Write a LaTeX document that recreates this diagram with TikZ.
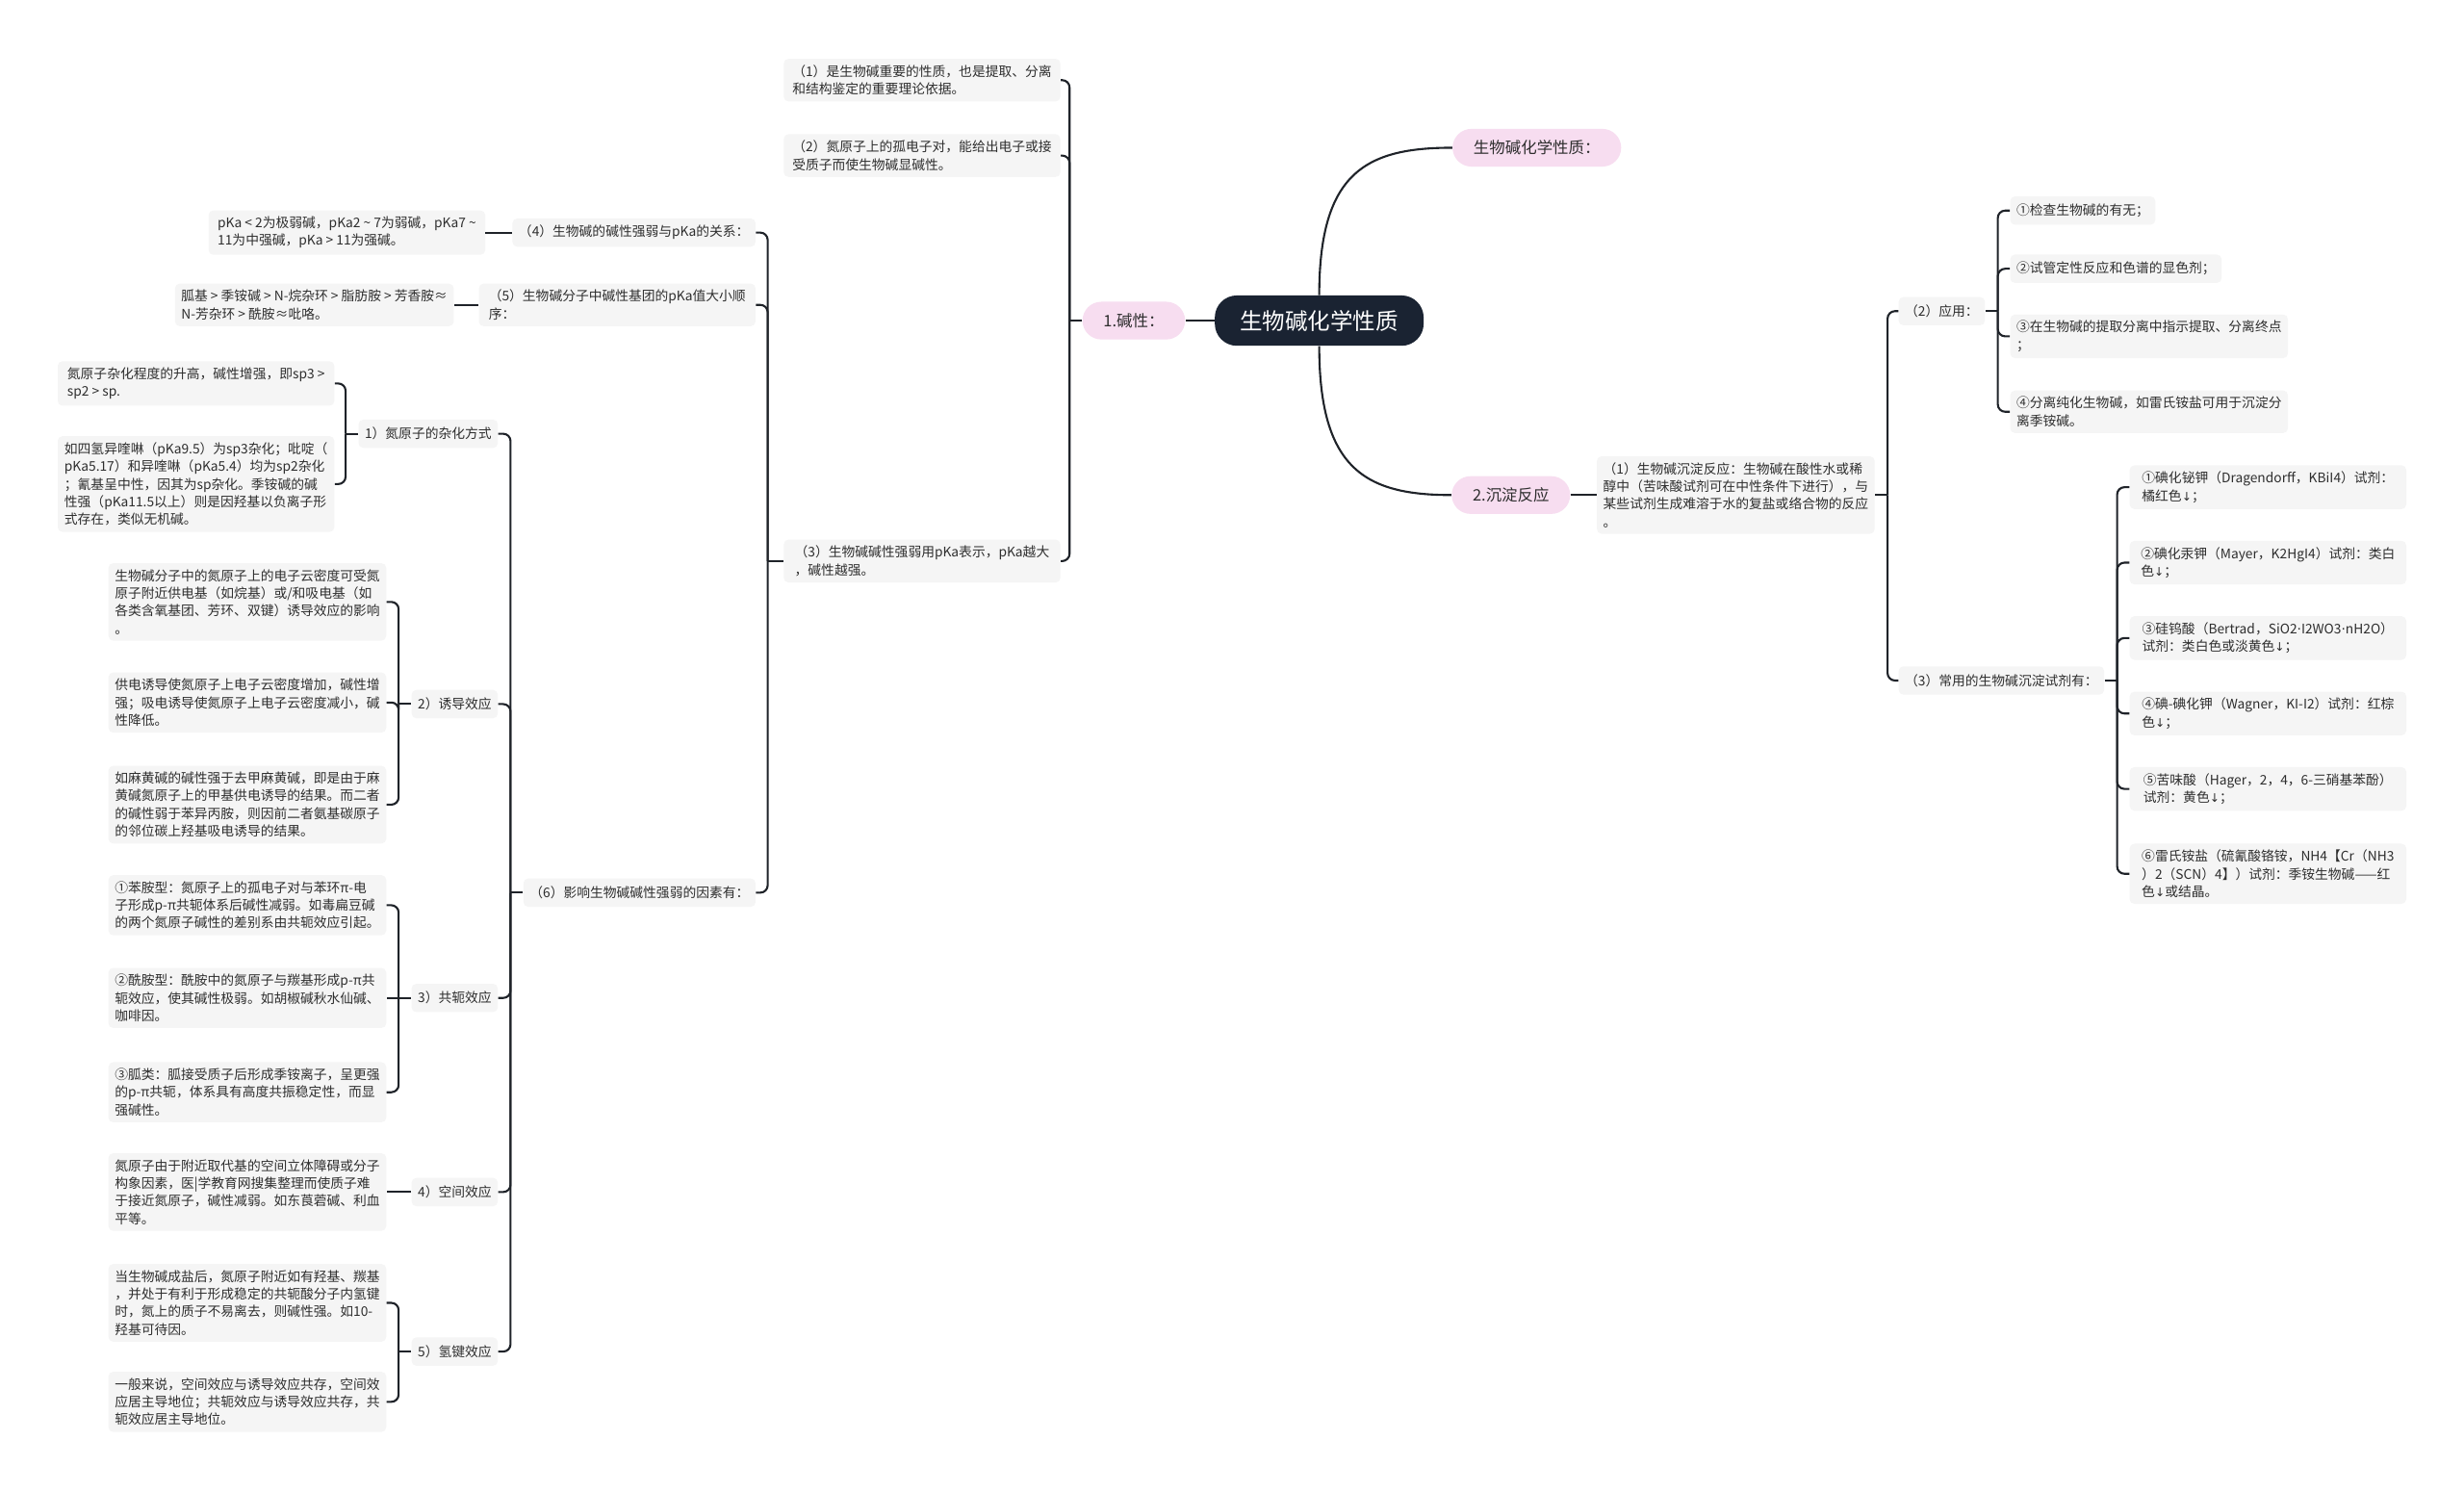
\documentclass[tikz,border=0pt]{standalone}
\usepackage{fontspec}
\setmainfont{Noto Sans CJK SC}
\newfontfamily\symfont{DejaVu Sans}
\usepackage{xcolor}
\usepackage{tikz}
\usetikzlibrary{calc}
\definecolor{mapInk}{HTML}{2E2E2E}
\definecolor{mapLine}{HTML}{1F2329}
\definecolor{mapRoot}{HTML}{1A2332}
\definecolor{mapPink}{HTML}{F7DDF0}
\definecolor{mapBox}{HTML}{F5F5F5}
\newcommand{\dn}{{\symfont\fontsize{6.4}{9.56}\selectfont ↓}}
\newcommand{\md}{{\symfont ·}}

\begin{document}
\begin{tikzpicture}[
  x=0.03cm, y=-0.03cm,
  every node/.style={font=\fontsize{7.2}{9.56}\selectfont, text=mapInk},
  root/.style={
    fill=mapRoot, text=white, rounded corners=0.42cm, minimum height=0.96cm,
    inner xsep=0.48cm, font=\fontsize{12.3}{14}\selectfont,
  },
  topic/.style={
    fill=mapPink, rounded corners=0.36cm, minimum height=0.72cm,
    inner xsep=0.4cm, font=\fontsize{8.6}{10}\selectfont,
  },
  box/.style={
    fill=mapBox, rounded corners=0.09cm, align=left, inner xsep=0.12cm,
    inner ysep=0.12cm, minimum height=0.54cm,
  },
  leaf/.style={box, minimum width=5.28cm},
  link/.style={draw=mapLine, line width=1.1pt, rounded corners=0.14cm},
]

% Page
\fill[white] (0,0) rectangle (1568,949);
\useasboundingbox (0,0) rectangle (1568,949);

% Root and main topics
\node[root] (root) at (839.5, 204) {生物碱化学性质};
\node[topic] (basic) at (721.5, 204) {1.碱性：};
\node[topic] (chem) at (978, 94) {生物碱化学性质：};
\node[topic] (prec) at (961.5, 315) {2.沉淀反应};

\draw[link] (root.west) -- (basic.east);
\draw[link] (root.north) .. controls +(0,-78) and +(-55,0) .. (chem.west);
\draw[link] (root.south) .. controls +(0,78) and +(-55,0) .. (prec.west);

% 1.碱性 (left side)
\node[leaf, anchor=east] (n1) at (675, 51) {（1）是生物碱重要的性质，也是提取、分离\\和结构鉴定的重要理论依据。};
\node[leaf, anchor=east] (n2) at (675, 99) {（2）氮原子上的孤电子对，能给出电子或接\\受质子而使生物碱显碱性。};
\node[leaf, anchor=east] (n3) at (675, 357) {（3）生物碱碱性强弱用pKa表示，pKa越大\\，碱性越强。};

\draw[link] (basic.west) -- ++(-8,0) coordinate (tb);
\foreach \c in {n1,n2,n3} \draw[link] (tb) |- (\c.east);

% (3) children
\node[box, anchor=east] (n4) at (481, 148) {（4）生物碱的碱性强弱与pKa的关系：};
\node[leaf, anchor=east] (n4a) at (309, 148) {pKa < 2为极弱碱，pKa2 \textasciitilde{} 7为弱碱，pKa7 \textasciitilde\\11为中强碱，pKa > 11为强碱。};
\node[leaf, anchor=east] (n5) at (481, 194) {（5）生物碱分子中碱性基团的pKa值大小顺\\序：};
\node[leaf, anchor=east] (n5a) at (289, 194) {胍基 > 季铵碱 > N-烷杂环 > 脂肪胺 > 芳香胺≈\\N-芳杂环 > 酰胺≈吡咯。};
\node[box, anchor=east] (n6) at (481, 568) {（6）影响生物碱碱性强弱的因素有：};

\draw[link] (n3.west) -- ++(-10,0) coordinate (t3);
\foreach \c in {n4,n5,n6} \draw[link] (t3) |- (\c.east);
\draw[link] (n4.west) -- (n4a.east);
\draw[link] (n5.west) -- (n5a.east);

% (6) factors
\node[box, anchor=east] (h1) at (317, 276) {1）氮原子的杂化方式};
\node[box, anchor=east] (h2) at (317, 448) {2）诱导效应};
\node[box, anchor=east] (h3) at (317, 635) {3）共轭效应};
\node[box, anchor=east] (h4) at (317, 758.5) {4）空间效应};
\node[box, anchor=east] (h5) at (317, 860) {5）氢键效应};

\draw[link] (n6.west) -- ++(-8,0) coordinate (t6);
\foreach \c in {h1,h2,h3,h4,h5} \draw[link] (t6) |- (\c.east);

% 1) hybridization
\node[leaf, anchor=east] (la) at (213, 244) {氮原子杂化程度的升高，碱性增强，即sp3 >\\sp2 > sp.};
\node[leaf, anchor=east] (lb) at (213, 308) {如四氢异喹啉（pKa9.5）为sp3杂化；吡啶（\\pKa5.17）和异喹啉（pKa5.4）均为sp2杂化\\；氰基呈中性，因其为sp杂化。季铵碱的碱\\性强（pKa11.5以上）则是因羟基以负离子形\\式存在，类似无机碱。};

\draw[link] (h1.west) -- ++(-8,0) coordinate (th1);
\foreach \c in {la,lb} \draw[link] (th1) |- (\c.east);

% 2) induction
\node[leaf, anchor=east] (lc) at (246, 383) {生物碱分子中的氮原子上的电子云密度可受氮\\原子附近供电基（如烷基）或/和吸电基（如\\各类含氧基团、芳环、双键）诱导效应的影响\\。};
\node[leaf, anchor=east] (ld) at (246, 447) {供电诱导使氮原子上电子云密度增加，碱性增\\强；吸电诱导使氮原子上电子云密度减小，碱\\性降低。};
\node[leaf, anchor=east] (le) at (246, 512) {如麻黄碱的碱性强于去甲麻黄碱，即是由于麻\\黄碱氮原子上的甲基供电诱导的结果。而二者\\的碱性弱于苯异丙胺，则因前二者氨基碳原子\\的邻位碳上羟基吸电诱导的结果。};

\draw[link] (h2.west) -- ++(-8,0) coordinate (th2);
\foreach \c in {lc,ld,le} \draw[link] (th2) |- (\c.east);

% 3) conjugation
\node[leaf, anchor=east] (lf) at (246, 576) {①苯胺型：氮原子上的孤电子对与苯环π-电\\子形成p-π共轭体系后碱性减弱。如毒扁豆碱\\的两个氮原子碱性的差别系由共轭效应引起。};
\node[leaf, anchor=east] (lg) at (246, 635) {②酰胺型：酰胺中的氮原子与羰基形成p-π共\\轭效应，使其碱性极弱。如胡椒碱秋水仙碱、\\咖啡因。};
\node[leaf, anchor=east] (lh) at (246, 695) {③胍类：胍接受质子后形成季铵离子，呈更强\\的p-π共轭，体系具有高度共振稳定性，而显\\强碱性。};

\draw[link] (h3.west) -- ++(-8,0) coordinate (th3);
\foreach \c in {lf,lh} \draw[link] (th3) |- (\c.east);
\draw[link] (th3) -- (lg.east);

% 4) steric
\node[leaf, anchor=east] (li) at (246, 758.5) {氮原子由于附近取代基的空间立体障碍或分子\\构象因素，医|学教育网搜集整理而使质子难\\于接近氮原子，碱性减弱。如东莨菪碱、利血\\平等。};
\draw[link] (h4.west) -- (li.east);

% 5) hydrogen bond
\node[leaf, anchor=east] (lj) at (246, 829) {当生物碱成盐后，氮原子附近如有羟基、羰基\\，并处于有利于形成稳定的共轭酸分子内氢键\\时，氮上的质子不易离去，则碱性强。如10-\\羟基可待因。};
\node[leaf, anchor=east] (lk) at (246, 892) {一般来说，空间效应与诱导效应共存，空间效\\应居主导地位；共轭效应与诱导效应共存，共\\轭效应居主导地位。};

\draw[link] (h5.west) -- ++(-8,0) coordinate (th5);
\foreach \c in {lj,lk} \draw[link] (th5) |- (\c.east);

% 2.沉淀反应 (right side)
\node[leaf, anchor=west] (p1) at (1016, 315) {（1）生物碱沉淀反应：生物碱在酸性水或稀\\醇中（苦味酸试剂可在中性条件下进行），与\\某些试剂生成难溶于水的复盐或络合物的反应\\。};
\draw[link] (prec.east) -- (p1.west);

\node[box, anchor=west] (app) at (1208, 198) {（2）应用：};
\node[box, anchor=west] (reag) at (1208, 433) {（3）常用的生物碱沉淀试剂有：};

\draw[link] (p1.east) -- ++(8,0) coordinate (tp);
\foreach \c in {app,reag} \draw[link] (tp) |- (\c.west);

% Applications
\node[box, anchor=west] (a1) at (1279, 134) {①检查生物碱的有无；};
\node[box, anchor=west] (a2) at (1279, 171) {②试管定性反应和色谱的显色剂；};
\node[leaf, anchor=west] (a3) at (1279, 214) {③在生物碱的提取分离中指示提取、分离终点\\；};
\node[leaf, anchor=west] (a4) at (1279, 262) {④分离纯化生物碱，如雷氏铵盐可用于沉淀分\\离季铵碱。};

\draw[link] (app.east) -- ++(8,0) coordinate (ta);
\foreach \c in {a1,a2,a3,a4} \draw[link] (ta) |- (\c.west);

% Reagents
\node[leaf, anchor=west] (r1) at (1355, 310) {①碘化铋钾（Dragendorff，KBiI4）试剂：\\橘红色\dn；};
\node[leaf, anchor=west] (r2) at (1355, 358) {②碘化汞钾（Mayer，K2HgI4）试剂：类白\\色\dn；};
\node[leaf, anchor=west] (r3) at (1355, 406) {③硅钨酸（Bertrad，SiO2\md I2WO3\md nH2O）\\试剂：类白色或淡黄色\dn；};
\node[leaf, anchor=west] (r4) at (1355, 454) {④碘-碘化钾（Wagner，KI-I2）试剂：红棕\\色\dn；};
\node[leaf, anchor=west] (r5) at (1355, 502) {⑤苦味酸（Hager，2，4，6-三硝基苯酚）\\试剂：黄色\dn；};
\node[leaf, anchor=west] (r6) at (1355, 556) {⑥雷氏铵盐（硫氰酸铬铵，NH4【Cr（NH3\\）2（SCN）4】）试剂：季铵生物碱——红\\色\dn 或结晶。};

\draw[link] (reag.east) -- ++(8,0) coordinate (tr);
\foreach \c in {r1,r2,r3,r4,r5,r6} \draw[link] (tr) |- (\c.west);

\end{tikzpicture}
\end{document}
